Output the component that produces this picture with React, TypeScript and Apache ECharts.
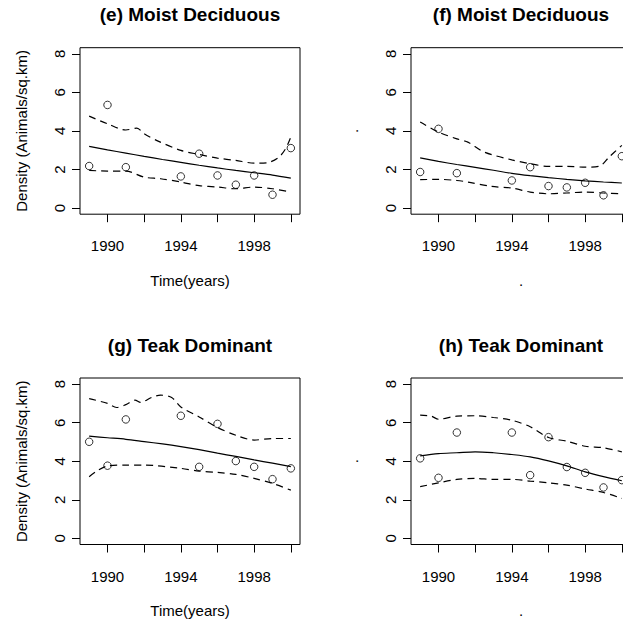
import React, { useEffect, useRef } from "react";
import * as echarts from "echarts";

// Survey years with observations (no survey in 1992 and 1993)
const obsYears = [1989, 1990, 1991, 1994, 1995, 1996, 1997, 1998, 1999, 2000];
// Years at which the fitted trend is drawn
const fitYears = [1989, 1990, 1991, 1992, 1993, 1994, 1995, 1996, 1997, 1998, 1999, 2000];

// (e) Moist Deciduous
const eObs = [2.18, 5.35, 2.12, 1.64, 2.82, 1.69, 1.21, 1.69, 0.69, 3.11];
const eFit = [3.2, 3.02, 2.85, 2.68, 2.52, 2.37, 2.22, 2.08, 1.95, 1.83, 1.71, 1.55];
const eUpperYears = [1989, 1990, 1991, 1991.6, 1992, 1992.7, 1994, 1995, 1996, 1997, 1998, 1998.7, 1999.3, 1999.7, 2000];
const eUpper = [4.77, 4.37, 4.05, 4.15, 3.85, 3.5, 2.99, 2.78, 2.59, 2.47, 2.33, 2.35, 2.6, 3.05, 3.68];
const eLowerYears = [1989, 1990, 1991, 1992, 1992.9, 1994, 1995, 1996, 1997, 1998, 1999, 2000];
const eLower = [1.95, 1.92, 1.92, 1.6, 1.52, 1.35, 1.16, 1.09, 1.0, 1.09, 1.0, 0.83];

// (f) Moist Deciduous
const fObs = [1.87, 4.11, 1.81, 1.43, 2.12, 1.14, 1.07, 1.31, 0.66, 2.69];
const fFit = [2.6, 2.42, 2.26, 2.11, 1.96, 1.8, 1.68, 1.58, 1.49, 1.41, 1.35, 1.3];
const fUpperYears = [1989, 1990, 1991, 1991.6, 1992.5, 1994, 1995, 1996, 1997, 1998, 1998.8, 1999.3, 2000];
const fUpper = [4.46, 3.94, 3.59, 3.42, 2.9, 2.5, 2.3, 2.16, 2.16, 2.12, 2.18, 2.64, 3.25];
const fLowerYears = [1989, 1990, 1991, 1991.6, 1992.9, 1994, 1995, 1996, 1997, 1998, 1999, 2000];
const fLower = [1.47, 1.49, 1.43, 1.35, 1.12, 1.04, 0.83, 0.74, 0.78, 0.83, 0.78, 0.74];

// (g) Teak Dominant
const gObs = [5.01, 3.77, 6.17, 6.36, 3.71, 5.94, 4.01, 3.71, 3.07, 3.63];
const gFit = [5.3, 5.22, 5.14, 5.02, 4.9, 4.76, 4.6, 4.42, 4.25, 4.07, 3.9, 3.72];
const gUpperYears = [1989, 1990, 1990.5, 1991, 1991.5, 1991.8, 1992.4, 1992.9, 1993.5, 1994, 1995, 1996, 1997, 1998, 1999, 2000];
const gUpper = [7.25, 7.0, 6.79, 6.94, 7.17, 7.05, 7.31, 7.43, 7.31, 6.82, 6.3, 5.75, 5.35, 5.1, 5.18, 5.18];
const gLowerYears = [1989, 1989.5, 1990, 1991, 1992, 1994, 1995, 1996, 1997, 1998, 1999, 2000];
const gLower = [3.2, 3.54, 3.75, 3.8, 3.8, 3.63, 3.49, 3.42, 3.32, 3.11, 2.85, 2.5];

// (h) Teak Dominant
const hObs = [4.15, 3.14, 5.49, 5.49, 3.28, 5.25, 3.7, 3.4, 2.64, 3.02];
const hFit = [4.28, 4.4, 4.44, 4.49, 4.44, 4.35, 4.23, 4.02, 3.76, 3.45, 3.2, 2.99];
const hUpperYears = [1989, 1989.6, 1990, 1991, 1992, 1993, 1994, 1995, 1996, 1997, 1998, 1999, 2000];
const hUpper = [6.39, 6.34, 6.18, 6.34, 6.36, 6.27, 6.13, 5.79, 5.23, 5.04, 4.78, 4.7, 4.49];
const hLowerYears = [1989, 1990, 1991, 1992, 1993, 1994, 1995, 1996, 1997, 1998, 1999, 2000];
const hLower = [2.68, 2.88, 3.06, 3.11, 3.06, 3.06, 2.97, 2.88, 2.76, 2.56, 2.38, 2.07];

// Axis ticks and labels
const xTicks = [1990, 1992, 1994, 1996, 1998, 2000];
const xLabels = [1990, 1994, 1998];
const yTicks = [0, 2, 4, 6, 8];
const yMin = 0;
const yMax = 8;
const yStep = 2;

const titles = ["(e) Moist Deciduous", "(f) Moist Deciduous", "(g) Teak Dominant", "(h) Teak Dominant"];
const xTitles = ["Time(years)", ".", "Time(years)", "."];
const yTitles = ["Density (Animals/sq.km)", ".", "Density (Animals/sq.km)", "."];

const FONT = "'Liberation Sans', Arial, Helvetica, sans-serif";

const pair = (xs: number[], ys: number[]) => xs.map((x, i) => [x, ys[i]]);

const panels = [
  { obs: eObs, fit: eFit, upX: eUpperYears, up: eUpper, loX: eLowerYears, lo: eLower },
  { obs: fObs, fit: fFit, upX: fUpperYears, up: fUpper, loX: fLowerYears, lo: fLower },
  { obs: gObs, fit: gFit, upX: gUpperYears, up: gUpper, loX: gLowerYears, lo: gLower },
  { obs: hObs, fit: hFit, upX: hUpperYears, up: hUpper, loX: hLowerYears, lo: hLower },
];

// Plot frame geometry (the frame is padded 4% beyond the 0..8 value range)
const colLeft = [80, 411];
const rowTop = [47.7, 378];
const frameW = 220;
const frameH = 166.5;
const pad = (frameH * 0.04) / 1.08; // pixels between frame edge and the 0 / 8 ticks
const plotH = frameH - 2 * pad;

const textStyle = (text: string, size: number, bold = false) => ({
  text,
  fontSize: size,
  fontWeight: bold ? "bold" : "normal",
  fontFamily: FONT,
  fill: "#000",
  textAlign: "center",
  textVerticalAlign: "middle",
  align: "center",
  verticalAlign: "middle",
});

export default function App() {
  const ref = useRef<HTMLDivElement>(null);

  useEffect(() => {
    if (!ref.current) return;
    const chart = echarts.init(ref.current, null, { renderer: "svg" });

    const grid: any[] = [];
    const xAxis: any[] = [];
    const yAxis: any[] = [];
    const series: any[] = [];
    const graphic: any[] = [];

    panels.forEach((p, i) => {
      const left = colLeft[i % 2];
      const top = rowTop[Math.floor(i / 2)];
      grid.push({
        left,
        top: top + pad,
        width: frameW,
        height: plotH,
        show: false,
        outerBoundsMode: "none",
        containLabel: false,
      });
      xAxis.push({
        type: "value",
        gridIndex: i,
        min: 1988.5,
        max: 2000.5,
        offset: pad,
        axisLine: { show: false, onZero: false },
        splitLine: { show: false },
        axisTick: {
          show: true,
          length: 8,
          customValues: xTicks,
          lineStyle: { color: "#000", width: 1 },
        },
        axisLabel: {
          customValues: xLabels,
          margin: 24,
          fontSize: 15,
          fontFamily: FONT,
          color: "#000",
          formatter: (v: number) => String(v),
        },
      });
      yAxis.push({
        type: "value",
        gridIndex: i,
        min: yMin,
        max: yMax,
        interval: yStep,
        axisLine: { show: false, onZero: false },
        splitLine: { show: false },
        axisTick: {
          show: true,
          length: 8,
          lineStyle: { color: "#000", width: 1 },
        },
        // tick labels are drawn upright-rotated below, from the axis scale
        axisLabel: { show: false },
      });

      const lineBase = {
        type: "line",
        xAxisIndex: i,
        yAxisIndex: i,
        symbol: "none",
        showSymbol: false,
        smooth: 0.3,
        silent: true,
        clip: false,
      };
      series.push({
        ...lineBase,
        name: "fit",
        data: pair(fitYears, p.fit),
        lineStyle: { color: "#000", width: 1.2, type: "solid" },
      });
      series.push({
        ...lineBase,
        name: "upper",
        data: pair(p.upX, p.up),
        lineStyle: { color: "#000", width: 1.2, type: [7, 5] },
      });
      series.push({
        ...lineBase,
        name: "lower",
        data: pair(p.loX, p.lo),
        lineStyle: { color: "#000", width: 1.2, type: [7, 5] },
      });
      series.push({
        type: "scatter",
        name: "observed",
        xAxisIndex: i,
        yAxisIndex: i,
        symbol: "circle",
        symbolSize: 7.5,
        data: pair(obsYears, p.obs),
        itemStyle: { color: "rgba(0,0,0,0)", borderColor: "#000", borderWidth: 1 },
        silent: true,
      });

      // plot frame
      graphic.push({
        type: "rect",
        shape: { x: left, y: top, width: frameW, height: frameH },
        style: { fill: "none", stroke: "#000", lineWidth: 1 },
        silent: true,
      });

      const cx = left + frameW / 2;
      graphic.push({ type: "text", x: cx, y: top - 33, style: textStyle(titles[i], 19, true) });
      graphic.push({ type: "text", x: cx, y: top + frameH + 66, style: textStyle(xTitles[i], 15) });
      graphic.push({
        type: "text",
        x: left - 59,
        y: top + frameH / 2,
        rotation: Math.PI / 2,
        style: textStyle(yTitles[i], 15),
      });
    });

    chart.setOption({
      animation: false,
      backgroundColor: "#fff",
      textStyle: { fontFamily: FONT },
      grid,
      xAxis,
      yAxis,
      series,
      graphic,
    });

    // Rotated y tick labels, placed with the axes' own scales
    const yLabelGraphics: any[] = [];
    panels.forEach((_p, i) => {
      yTicks.forEach((v) => {
        const pt = chart.convertToPixel({ gridIndex: i }, [1988.5, v]) as number[];
        if (!pt) return;
        yLabelGraphics.push({
          type: "text",
          x: pt[0] - 21,
          y: pt[1],
          rotation: Math.PI / 2,
          style: textStyle(String(v), 15),
        });
      });
    });
    chart.setOption({ graphic: [...graphic, ...yLabelGraphics] });

    return () => chart.dispose();
  }, []);

  return (
    <div
      ref={ref}
      style={{ position: "fixed", left: 0, top: 0, width: 623, height: 626, background: "#fff" }}
    />
  );
}
